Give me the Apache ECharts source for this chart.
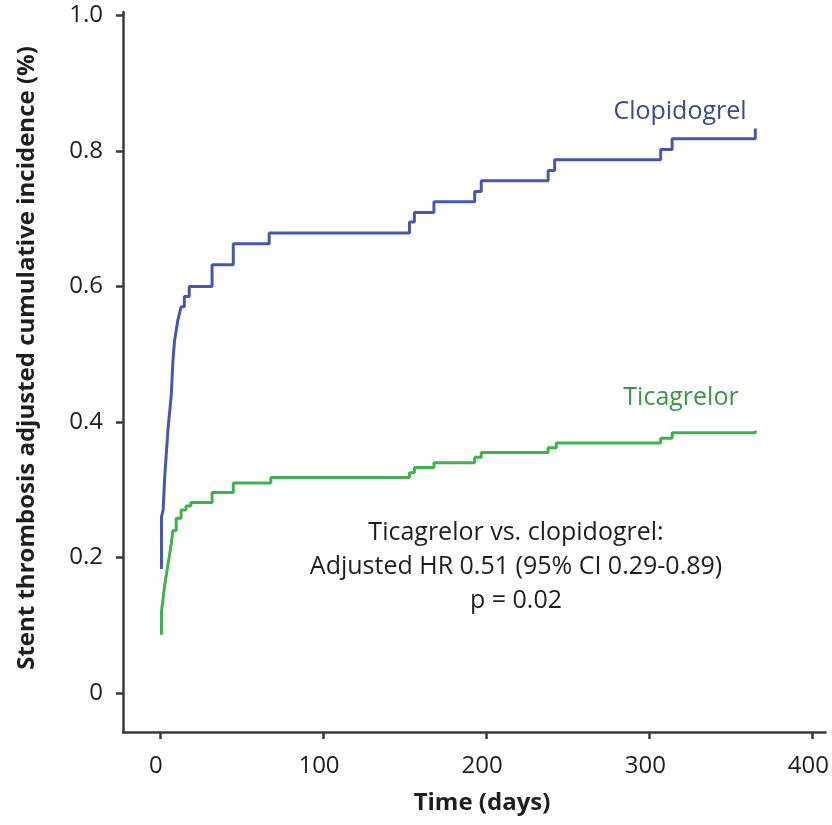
<!DOCTYPE html>
<html>
<head>
<meta charset="utf-8">
<script src="https://cdn.jsdelivr.net/npm/echarts@6/dist/echarts.min.js"></script>
<style>
  html, body { margin: 0; padding: 0; background: #fff; }
  #chart { width: 832px; height: 825px; }
</style>
</head>
<body>
<div id="chart"></div>
<script>
// Adjusted cumulative incidence of stent thrombosis (%) over follow-up
const clopidogrelDays = [1, 1, 2, 3, 4, 5, 6, 7, 8, 9, 10, 11, 12, 13, 15, 18, 32, 45, 67, 153, 156, 168, 193, 197, 238, 242, 307, 314, 365, 365];
const clopidogrelValues = [0.183, 0.26, 0.27, 0.32, 0.355, 0.39, 0.415, 0.44, 0.49, 0.52, 0.535, 0.55, 0.56, 0.57, 0.585, 0.60, 0.632, 0.663, 0.679, 0.695, 0.709, 0.725, 0.740, 0.756, 0.771, 0.787, 0.802, 0.818, 0.818, 0.833];

const ticagrelorDays = [1, 1, 2, 3, 4, 5, 6, 7, 8, 10, 13, 16, 19, 32, 45, 68, 153, 156, 168, 193, 197, 238, 243, 307, 314, 365];
const ticagrelorValues = [0.086, 0.12, 0.14, 0.16, 0.175, 0.19, 0.205, 0.22, 0.24, 0.258, 0.27, 0.276, 0.281, 0.296, 0.310, 0.318, 0.325, 0.333, 0.340, 0.348, 0.355, 0.362, 0.369, 0.376, 0.384, 0.387];

const xTicks = [0, 100, 200, 300, 400];
const yTicks = [0, 0.2, 0.4, 0.6, 0.8, 1.0];

const FONT = '"Open Sans", "Noto Sans", sans-serif';
const AXIS_COLOR = '#3a3a3a';
const TEXT_COLOR = '#1e1e1e';

function pairs(xs, ys) {
  return xs.map((x, i) => [x, ys[i]]);
}

const chart = echarts.init(document.getElementById('chart'), null, { renderer: 'canvas' });

chart.setOption({
  backgroundColor: '#ffffff',
  animation: false,
  grid: { left: 123, right: 4, top: 12, bottom: 93, containLabel: false },
  xAxis: {
    type: 'value',
    min: -22.6,
    max: 408,
    axisLine: { show: true, onZero: false, lineStyle: { color: AXIS_COLOR, width: 2.5 } },
    axisTick: { show: true, length: 7, customValues: xTicks, lineStyle: { color: AXIS_COLOR, width: 2.5 } },
    axisLabel: {
      customValues: xTicks,
      margin: 22,
      fontFamily: FONT,
      fontSize: 24,
      color: TEXT_COLOR,
      padding: [0, 8, 0, 0],
      formatter: v => String(v)
    },
    splitLine: { show: false }
  },
  yAxis: {
    type: 'value',
    min: -0.0575,
    max: 1.005,
    axisLine: { show: true, onZero: false, lineStyle: { color: AXIS_COLOR, width: 2.5 } },
    axisTick: { show: true, length: 7, customValues: yTicks, lineStyle: { color: AXIS_COLOR, width: 2.5 } },
    axisLabel: {
      customValues: yTicks,
      margin: 20,
      fontFamily: FONT,
      fontSize: 24,
      color: TEXT_COLOR,
      formatter: v => (v === 0 ? '0' : v.toFixed(1))
    },
    splitLine: { show: false }
  },
  series: [
    {
      name: 'Clopidogrel',
      type: 'line',
      step: 'end',
      showSymbol: false,
      data: pairs(clopidogrelDays, clopidogrelValues),
      lineStyle: { color: '#4657b0', width: 3 },
      itemStyle: { color: '#4657b0' }
    },
    {
      name: 'Ticagrelor',
      type: 'line',
      step: 'end',
      showSymbol: false,
      data: pairs(ticagrelorDays, ticagrelorValues),
      lineStyle: { color: '#3db449', width: 3 },
      itemStyle: { color: '#3db449' }
    }
  ],
  graphic: [
    {
      type: 'text',
      x: 27, y: 358,
      rotation: Math.PI / 2,
      style: {
        text: 'Stent thrombosis adjusted cumulative incidence (%)',
        fontFamily: FONT, fontSize: 24, fontWeight: 'bold',
        fill: TEXT_COLOR, align: 'center', verticalAlign: 'middle'
      }
    },
    {
      type: 'text',
      x: 482, y: 803,
      style: {
        text: 'Time (days)',
        fontFamily: FONT, fontSize: 24, fontWeight: 'bold',
        fill: TEXT_COLOR, align: 'center', verticalAlign: 'middle'
      }
    },
    {
      type: 'text',
      x: 680, y: 112,
      style: {
        text: 'Clopidogrel',
        fontFamily: FONT, fontSize: 25,
        fill: '#3b4a8f', align: 'center', verticalAlign: 'middle'
      }
    },
    {
      type: 'text',
      x: 681, y: 398,
      style: {
        text: 'Ticagrelor',
        fontFamily: FONT, fontSize: 25,
        fill: '#3e9546', align: 'center', verticalAlign: 'middle'
      }
    },
    {
      type: 'text',
      x: 516, y: 533,
      style: {
        text: 'Ticagrelor vs. clopidogrel:',
        fontFamily: FONT, fontSize: 25,
        fill: TEXT_COLOR, align: 'center', verticalAlign: 'middle'
      }
    },
    {
      type: 'text',
      x: 516, y: 567,
      style: {
        text: 'Adjusted HR 0.51 (95% CI 0.29-0.89)',
        fontFamily: FONT, fontSize: 25,
        fill: TEXT_COLOR, align: 'center', verticalAlign: 'middle'
      }
    },
    {
      type: 'text',
      x: 516, y: 601,
      style: {
        text: 'p = 0.02',
        fontFamily: FONT, fontSize: 25,
        fill: TEXT_COLOR, align: 'center', verticalAlign: 'middle'
      }
    }
  ]
});
</script>
</body>
</html>
